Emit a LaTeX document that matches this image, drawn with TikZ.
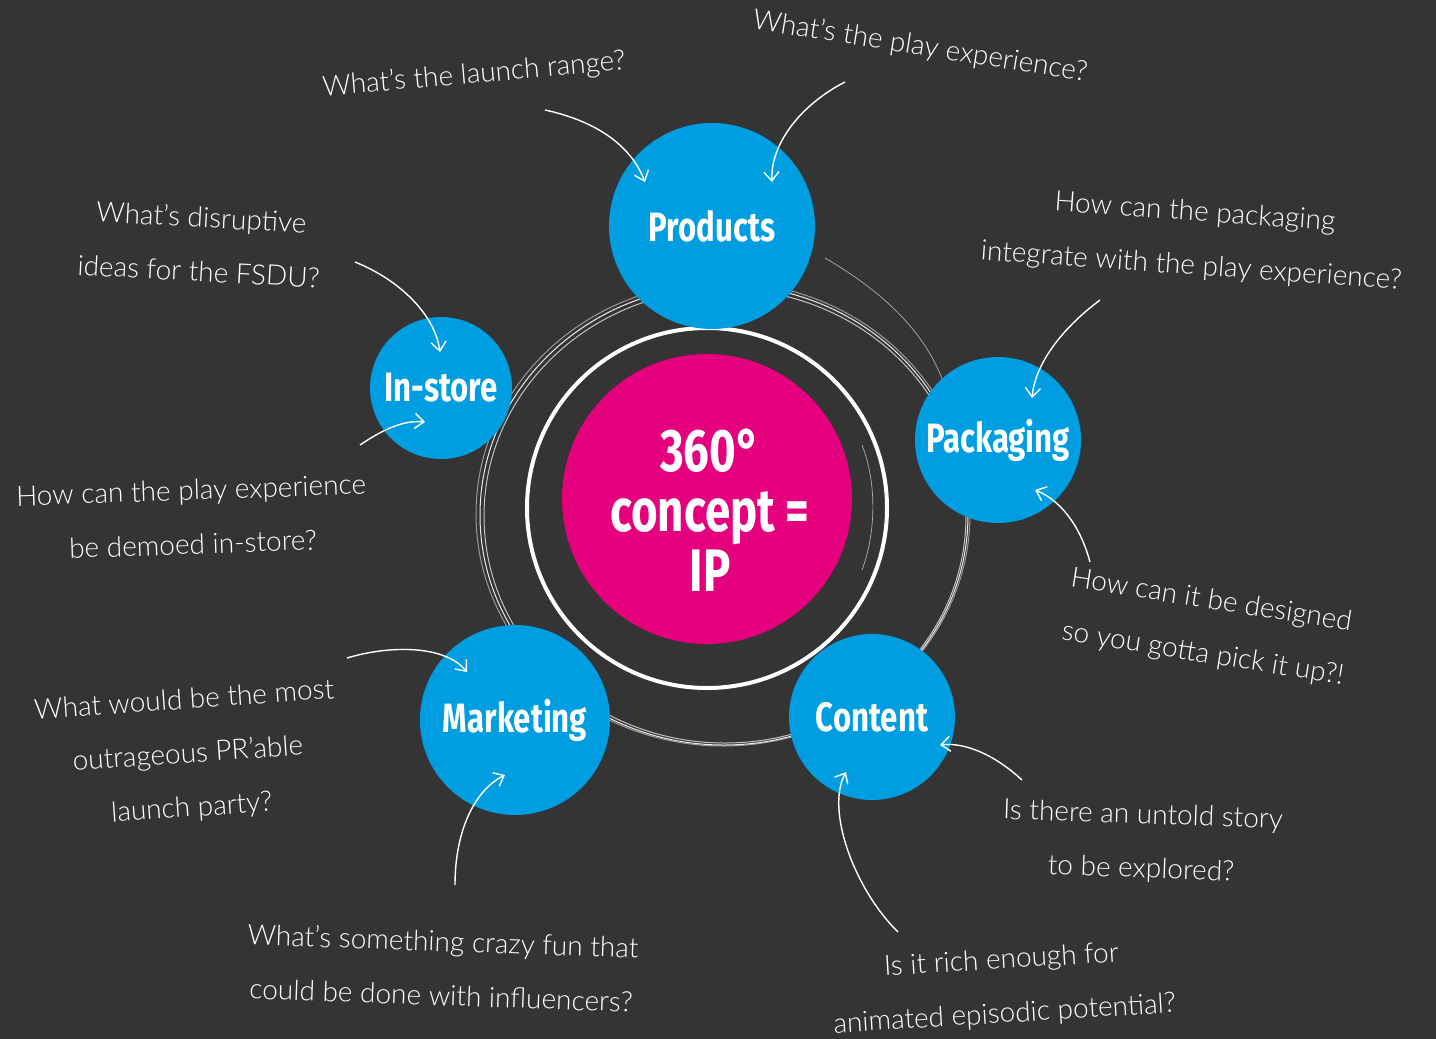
\documentclass[tikz,border=0pt]{standalone}
\usepackage{fontspec}
\usetikzlibrary{arrows.meta,calc}
\newfontfamily\handfont{Lato Light}
\newfontfamily\brushfont[FakeStretch=0.76]{Fira Sans}
\definecolor{board}{RGB}{52,52,52}
\definecolor{topicblue}{RGB}{0,158,224}
\definecolor{ipmagenta}{RGB}{229,0,126}

\begin{document}
\begin{tikzpicture}[x=1pt,y=-1pt,
    topic/.style={circle,fill=topicblue,inner sep=0pt,text=white,
        font=\brushfont\bfseries\fontsize{41}{41}\selectfont},
    question/.style={text=white,align=center,inner sep=0pt,
        font=\handfont\fontsize{28}{54}\selectfont},
    qarrow/.style={draw=white,line width=1.4pt,
        -{Straight Barb[length=9pt,width=15pt]}},
    ring/.style={draw=white,line width=1pt}]

    % board
    \fill[board] (0,0) rectangle (1436,1039);
    \useasboundingbox (0,0) rectangle (1436,1039);

    % rings
    \draw[ring,line width=4pt] (707,508) circle (180pt);
    \draw[ring,opacity=0.9] (724,515) ellipse [x radius=244pt, y radius=230pt];
    \draw[ring,opacity=0.7] (725,516) ellipse [x radius=241pt, y radius=227pt];
    \draw[ring,opacity=0.5] (723,514) ellipse [x radius=247pt, y radius=232pt];
    \draw[white!60!board,line width=0.7pt] (825,258) .. controls (880,290) and (925,330) .. (944,384);
    \draw[white!60!board,line width=0.7pt] (862,445) .. controls (876,480) and (877,530) .. (862,570);

    % centre
    \node[circle,fill=ipmagenta,minimum size=290pt,inner sep=0pt] (ip) at (707,499) {};
    \node[text=white,align=center,font=\brushfont\bfseries\fontsize{60}{60}\selectfont]
        (iptext) at (710,510) {360°\\concept =\\IP};

    % topics
    \node[topic,minimum size=206pt] (prod) at (712,226) {Products};
    \node[topic,minimum size=142pt] (store) at (441,388) {In-store};
    \node[topic,minimum size=166pt] (pack) at (998,440) {Packaging};
    \node[topic,minimum size=190pt] (mark) at (515,720) {Marketing};
    \node[topic,minimum size=166pt] (cont) at (872,717) {Content};

    % Products
    \node[question,rotate=5] (qrange) at (474,75) {What’s the launch range?};
    \node[question,rotate=-9] (qplay) at (920,47) {What’s the play experience?};
    \coordinate (trange) at (545,110);
    \coordinate (tplay) at (845,82);
    \draw[qarrow] (trange) .. controls (600,122) and (632,148) .. ($(prod)+(-67,-44)$);
    \draw[qarrow] (tplay) .. controls (800,105) and (770,145) .. ($(prod)+(60,-44)$);

    % In-store
    \node[question,rotate=-3] (qfsdu) at (200,244) {What’s disruptive\\ideas for the FSDU?};
    \node[question,rotate=2] (qdemo) at (192,517) {How can the play experience\\be demoed in-store?};
    \coordinate (tfsdu) at (355,262);
    \coordinate (tdemo) at (360,445);
    \draw[qarrow] (tfsdu) .. controls (400,280) and (435,315) .. ($(store)+(-1,-36)$);
    \draw[qarrow] (tdemo) .. controls (385,428) and (405,420) .. ($(store)+(-16,34)$);

    % Packaging
    \node[question,rotate=-4] (qfit) at (1193,240) {How can the packaging\\integrate with the play experience?};
    \node[question,rotate=-9] (qpick) at (1207,628) {How can it be designed\\so you gotta pick it up?!};
    \coordinate (tfit) at (1100,300);
    \coordinate (tpick) at (1090,562);
    \draw[qarrow] (tfit) .. controls (1060,330) and (1035,365) .. ($(pack)+(34,-42)$);
    \draw[qarrow] (tpick) .. controls (1080,525) and (1060,500) .. ($(pack)+(37,50)$);

    % Marketing
    \node[question,rotate=4] (qparty) at (188,755) {What would be the most\\outrageous PR’able\\launch party?};
    \node[question,rotate=-2] (qinfl) at (442,968) {What’s something crazy fun that\\could be done with influencers?};
    \coordinate (tparty) at (347,658);
    \coordinate (tinfl) at (455,885);
    \draw[qarrow] (tparty) .. controls (390,645) and (445,645) .. ($(mark)+(-48,-48)$);
    \draw[qarrow] (tinfl) .. controls (455,830) and (475,790) .. ($(mark)+(-10,55)$);

    % Content
    \node[question,rotate=-2] (qstory) at (1142,843) {Is there an untold story\\to be explored?};
    \node[question,rotate=3.5] (qrich) at (1003,988) {Is it rich enough for\\animated episodic potential?};
    \coordinate (tstory) at (1022,780);
    \coordinate (trich) at (898,932);
    \draw[qarrow] (tstory) .. controls (995,755) and (965,742) .. ($(cont)+(68,28)$);
    \draw[qarrow] (trich) .. controls (855,890) and (825,810) .. ($(cont)+(-26,55)$);
\end{tikzpicture}
\end{document}
